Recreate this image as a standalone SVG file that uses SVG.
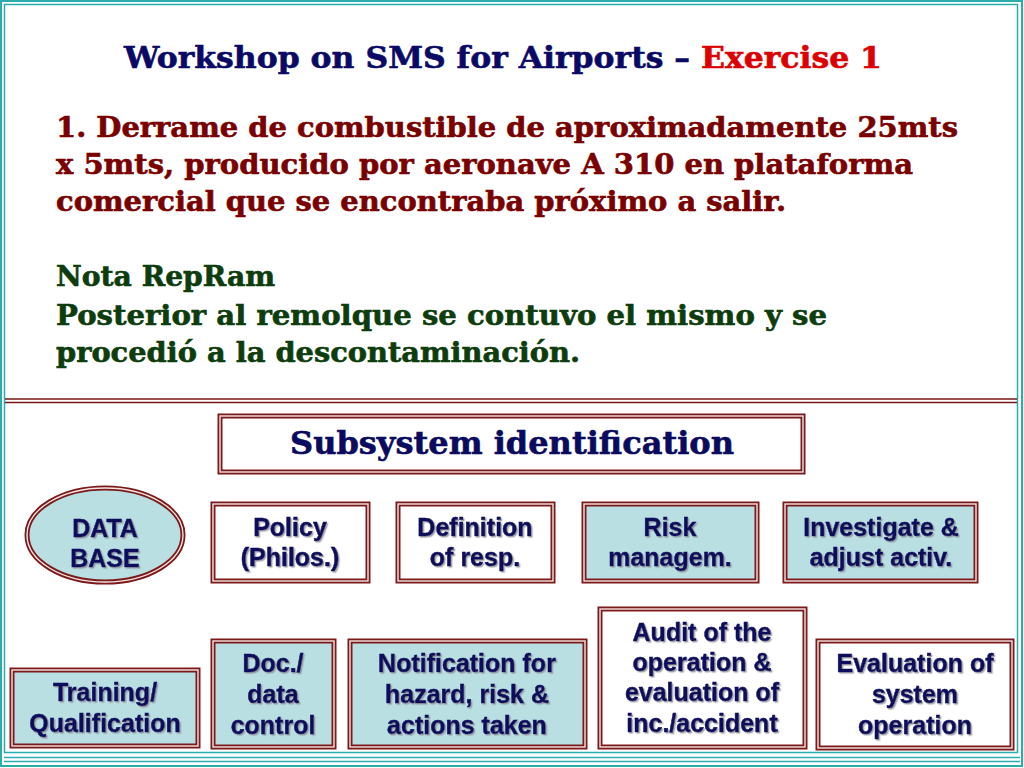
<svg xmlns="http://www.w3.org/2000/svg" width="1024" height="768" viewBox="0 0 1024 768">
<style>
.frame{fill:none;stroke:#2aacac}
.sep{stroke:#7a1616;stroke-width:1.6}
.title{font-family:"DejaVu Serif","Liberation Serif",serif;font-weight:bold;font-size:30px;fill:#0a0a66;stroke:#0a0a66;stroke-width:0.6}
.red{fill:#dd0000;stroke:#dd0000}
.body{font-family:"DejaVu Serif","Liberation Serif",serif;font-weight:bold;font-size:27px;stroke-width:0.6}
.maroon{fill:#7a0000;stroke:#7a0000}
.green{fill:#0d3d0d;stroke:#0d3d0d}
.sub{font-family:"DejaVu Serif","Liberation Serif",serif;font-weight:bold;font-size:32px;fill:#0a0a5e;stroke:#0a0a5e;stroke-width:0.6}
.o{stroke:#7a1a1a;stroke-width:5}
.i{fill:none;stroke:#f6e4e4;stroke-width:1.4}
.w{fill:#ffffff}
.b{fill:#b9dfe2}
.lbl{font-family:"Liberation Sans",Arial,sans-serif;font-weight:bold;font-size:25px;fill:#0b0b5c;stroke:#0b0b5c;stroke-width:0.5;text-anchor:middle;filter:url(#sh)}
</style>
<defs>
<filter id="sh" x="-10%" y="-20%" width="120%" height="150%">
<feDropShadow dx="1.4" dy="1.4" stdDeviation="0.4" flood-color="#8a8a9a" flood-opacity="0.8"/>
</filter>
</defs>
<rect width="1024" height="768" fill="#ffffff"/>
<g id="frame">
<rect class="frame" x="1" y="1" width="1021" height="765" stroke-width="2"/>
<rect class="frame" x="4.5" y="4.5" width="1013" height="748" stroke-width="1.5"/>
<line class="frame" x1="4" y1="757.5" x2="1020" y2="757.5" stroke-width="1.5"/>
<line class="frame" x1="4" y1="761.5" x2="1020" y2="761.5" stroke-width="1.5"/>
<line class="sep" x1="5" y1="399" x2="1017" y2="399"/>
<line class="sep" x1="5" y1="402.5" x2="1017" y2="402.5"/>
</g>
<g id="heading">
<text class="title" x="124" y="68" textLength="758" lengthAdjust="spacingAndGlyphs">Workshop on SMS for Airports – <tspan class="red">Exercise 1</tspan></text>
</g>
<g id="description">
<text class="body maroon" x="56" y="137" textLength="902" lengthAdjust="spacingAndGlyphs">1. Derrame de combustible de aproximadamente 25mts</text>
<text class="body maroon" x="56" y="174" textLength="857" lengthAdjust="spacingAndGlyphs">x 5mts, producido por aeronave A 310 en plataforma</text>
<text class="body maroon" x="56" y="211" textLength="730" lengthAdjust="spacingAndGlyphs">comercial que se encontraba próximo a salir.</text>
<text class="body green" x="56" y="286" textLength="219" lengthAdjust="spacingAndGlyphs">Nota RepRam</text>
<text class="body green" x="56" y="325" textLength="771" lengthAdjust="spacingAndGlyphs">Posterior al remolque se contuvo el mismo y se</text>
<text class="body green" x="56" y="362" textLength="524" lengthAdjust="spacingAndGlyphs">procedió a la descontaminación.</text>
</g>
<g id="subsystem">
<rect class="o w" x="220" y="416" width="583" height="56"/>
<rect class="i" x="220" y="416" width="583" height="56"/>
<text class="sub" x="290" y="454" textLength="444" lengthAdjust="spacingAndGlyphs">Subsystem identification</text>
</g>
<g id="database">
<ellipse class="o b" cx="105" cy="535" rx="78" ry="47"/>
<ellipse class="i" cx="105" cy="535" rx="78" ry="47"/>
<text class="lbl" x="105" y="537">DATA</text>
<text class="lbl" x="105" y="567">BASE</text>
</g>
<g id="policy">
<rect class="o w" x="213" y="504" width="155" height="77"/>
<rect class="i" x="213" y="504" width="155" height="77"/>
<text class="lbl" x="290" y="536">Policy</text>
<text class="lbl" x="290" y="566">(Philos.)</text>
</g>
<g id="definition">
<rect class="o w" x="398" y="504" width="155" height="77"/>
<rect class="i" x="398" y="504" width="155" height="77"/>
<text class="lbl" x="475" y="536">Definition</text>
<text class="lbl" x="475" y="566">of resp.</text>
</g>
<g id="risk">
<rect class="o b" x="584" y="504" width="173" height="77"/>
<rect class="i" x="584" y="504" width="173" height="77"/>
<text class="lbl" x="670" y="536">Risk</text>
<text class="lbl" x="670" y="566">managem.</text>
</g>
<g id="investigate">
<rect class="o b" x="785" y="504" width="191" height="77"/>
<rect class="i" x="785" y="504" width="191" height="77"/>
<text class="lbl" x="881" y="536">Investigate &amp;</text>
<text class="lbl" x="881" y="566">adjust activ.</text>
</g>
<g id="training">
<rect class="o b" x="12" y="670" width="186" height="76"/>
<rect class="i" x="12" y="670" width="186" height="76"/>
<text class="lbl" x="105" y="701">Training/</text>
<text class="lbl" x="105" y="732">Qualification</text>
</g>
<g id="doc">
<rect class="o b" x="213" y="641" width="121" height="106"/>
<rect class="i" x="213" y="641" width="121" height="106"/>
<text class="lbl" x="273" y="672">Doc./</text>
<text class="lbl" x="273" y="703">data</text>
<text class="lbl" x="273" y="734">control</text>
</g>
<g id="notification">
<rect class="o b" x="350" y="641" width="235" height="106"/>
<rect class="i" x="350" y="641" width="235" height="106"/>
<text class="lbl" x="467" y="672">Notification for</text>
<text class="lbl" x="467" y="703">hazard, risk &amp;</text>
<text class="lbl" x="467" y="734">actions taken</text>
</g>
<g id="audit">
<rect class="o w" x="600" y="609" width="205" height="138"/>
<rect class="i" x="600" y="609" width="205" height="138"/>
<text class="lbl" x="702" y="641">Audit of the</text>
<text class="lbl" x="702" y="671">operation &amp;</text>
<text class="lbl" x="702" y="701">evaluation of</text>
<text class="lbl" x="702" y="732">inc./accident</text>
</g>
<g id="evaluation">
<rect class="o w" x="818" y="641" width="194" height="107"/>
<rect class="i" x="818" y="641" width="194" height="107"/>
<text class="lbl" x="915" y="672">Evaluation of</text>
<text class="lbl" x="915" y="703">system</text>
<text class="lbl" x="915" y="734">operation</text>
</g>
<g id="connectors"></g>
</svg>
